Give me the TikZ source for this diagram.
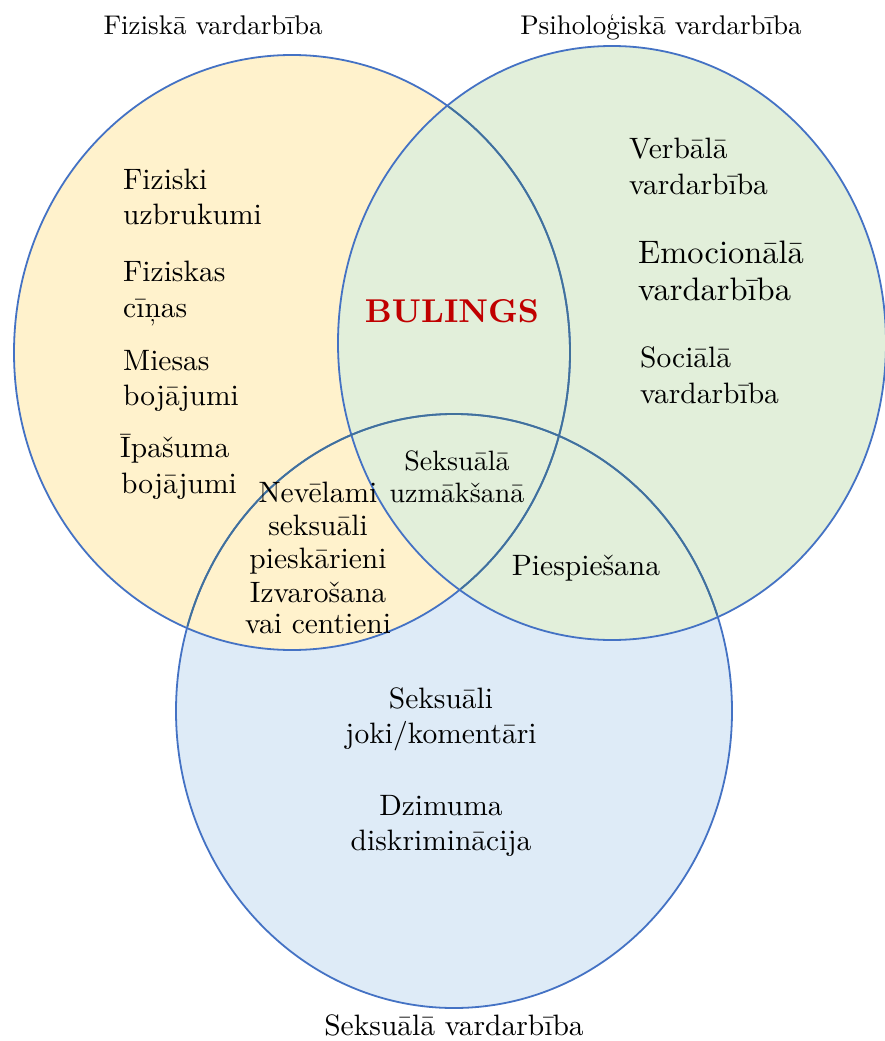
\documentclass[tikz,border=0pt]{standalone}
\usepackage{fontspec}
\setmainfont{lmroman10}[Extension=.otf, UprightFont=*-regular, BoldFont=*-bold, ItalicFont=*-italic, BoldItalicFont=*-bolditalic]
\definecolor{yel}{HTML}{FFF2CC}
\definecolor{grn}{HTML}{E2EFDA}
\definecolor{blu}{HTML}{DEEBF7}
\definecolor{edge}{HTML}{4472C4}
\definecolor{edgedark}{HTML}{41719C}
\definecolor{bred}{HTML}{C00000}
\begin{document}
\begin{tikzpicture}[x=1pt,y=-1pt,
  outline/.style={draw=edge, line width=1.8pt},
  inneroutline/.style={draw=edgedark, line width=1.8pt},
  title/.style={inner sep=0pt, anchor=base, font=\fontsize{27}{32}\selectfont},
  body/.style={inner sep=0pt, font=\fontsize{29.5}{35}\selectfont},
  bodyl/.style={body, anchor=base west},
  bodyc/.style={body, anchor=base},
  bigl/.style={inner sep=0pt, anchor=base west, font=\fontsize{32.5}{38}\selectfont},
  small/.style={inner sep=0pt, anchor=base, font=\fontsize{28}{32}\selectfont},
  bul/.style={inner sep=0pt, anchor=base, text=bred, font=\fontsize{33}{40}\selectfont\bfseries}]
\useasboundingbox (0,0) rectangle (884,1041);
\fill[white] (0,0) rectangle (884,1041);
% fills
\fill[blu] (454,711) ellipse [x radius=278, y radius=297];
\fill[yel] (292,352.5) ellipse [x radius=278, y radius=297.5];
\fill[grn] (612,343) ellipse [x radius=274, y radius=297];
% outlines
\draw[outline] (454,711) ellipse [x radius=278, y radius=297];
\draw[outline] (292,352.5) ellipse [x radius=278, y radius=297.5];
\draw[outline] (612,343) ellipse [x radius=274, y radius=297];
\begin{scope}
  \clip (612,343) ellipse [x radius=272, y radius=295];
  \draw[inneroutline] (292,352.5) ellipse [x radius=278, y radius=297.5];
\end{scope}
\begin{scope}
  \clip (292,352.5) ellipse [x radius=276, y radius=295.5] (612,343) ellipse [x radius=272, y radius=295];
  \draw[inneroutline] (454,711) ellipse [x radius=278, y radius=297];
\end{scope}
% titles
\node[title] (tf) at (213,35) {Fiziskā vardarbība};
\node[title] (tp) at (661,35) {Psiholoģiskā vardarbība};
\node[bodyc] (ts) at (454,1035) {Seksuālā vardarbība};
% physical
\node[bodyl] (f1a) at (123,189) {Fiziski};
\node[bodyl] (f1b) at (123,224) {uzbrukumi};
\node[bodyl] (f2a) at (123,281) {Fiziskas};
\node[bodyl] (f2b) at (123,317) {cīņas};
\node[bodyl] (f3a) at (123,370) {Miesas};
\node[bodyl] (f3b) at (123,405) {bojājumi};
\node[bodyl] (f4a) at (120,457) {Īpašuma};
\node[bodyl] (f4b) at (121,493) {bojājumi};
% psychological
\node[bodyl] (p1a) at (629,158) {Verbālā};
\node[bodyl] (p1b) at (629,194) {vardarbība};
\node[bigl] (p2a) at (638,263) {Emocionālā};
\node[bigl] (p2b) at (638,300) {vardarbība};
\node[bodyl] (p3a) at (640,367) {Sociālā};
\node[bodyl] (p3b) at (640,403) {vardarbība};
% center
\node[bul] (bul) at (452,322) {BULINGS};
\node[small] (c1a) at (457,470) {Seksuālā};
\node[small] (c1b) at (457,502) {uzmākšanā};
\node[bodyc] (y1) at (318,502) {Nevēlami};
\node[bodyc] (y2) at (318,535) {seksuāli};
\node[bodyc] (y3) at (318,568) {pieskārieni};
\node[bodyc] (y4) at (318,602) {Izvarošana};
\node[bodyc] (y5) at (318,633) {vai centieni};
\node[bodyc] (g1) at (586,575) {Piespiešana};
% sexual
\node[bodyc] (s1a) at (441,708) {Seksuāli};
\node[bodyc] (s1b) at (441,743) {joki/komentāri};
\node[bodyc] (s2a) at (441,815) {Dzimuma};
\node[bodyc] (s2b) at (441,850) {diskriminācija};
\end{tikzpicture}
\end{document}
